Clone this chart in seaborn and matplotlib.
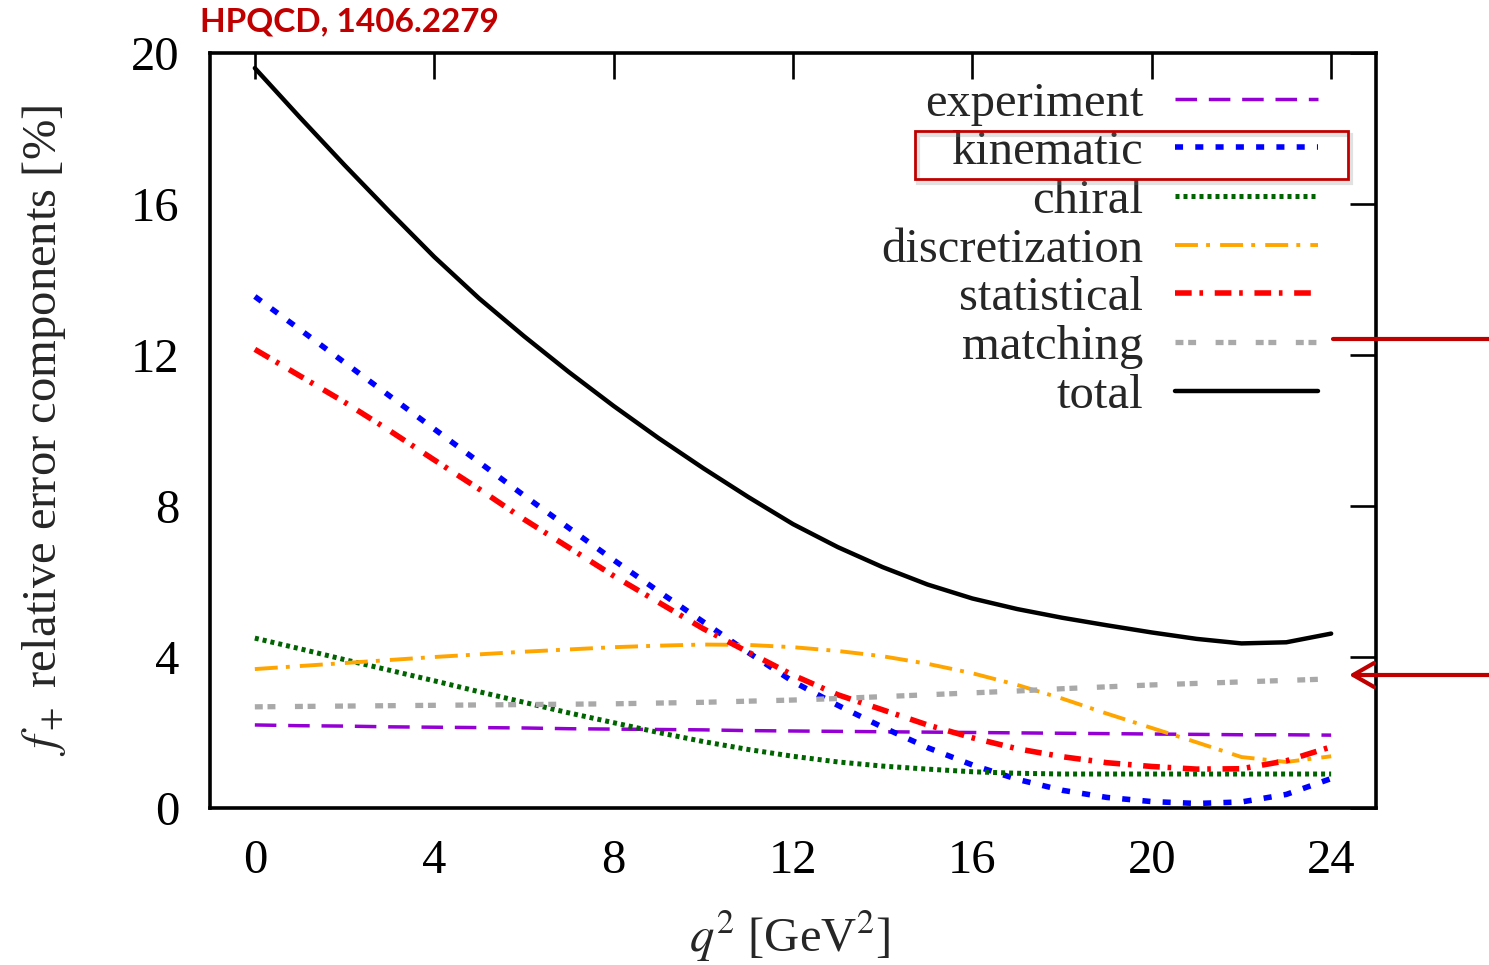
import matplotlib
matplotlib.use("Agg")
import matplotlib.pyplot as plt
import seaborn as sns
from matplotlib.lines import Line2D
from matplotlib.patches import Rectangle, FancyArrowPatch

# q^2 grid [GeV^2] and relative error components of f_+ [%]
q2 = list(range(25))
experiment = [2.20, 2.18, 2.17, 2.15, 2.14, 2.13, 2.12, 2.10, 2.09, 2.08, 2.07, 2.05, 2.04,
              2.03, 2.02, 2.01, 2.00, 1.99, 1.98, 1.97, 1.96, 1.95, 1.94, 1.94, 1.93]
kinematic = [13.55, 12.68, 11.80, 10.92, 10.04, 9.16, 8.28, 7.42, 6.57, 5.74, 4.93, 4.12, 3.35,
             2.72, 2.14, 1.60, 1.14, 0.76, 0.47, 0.28, 0.17, 0.12, 0.16, 0.36, 0.78]
chiral = [4.50, 4.22, 3.93, 3.65, 3.37, 3.08, 2.80, 2.52, 2.26, 2.00, 1.76, 1.55, 1.37,
          1.22, 1.11, 1.03, 0.96, 0.92, 0.90, 0.90, 0.90, 0.90, 0.90, 0.90, 0.90]
discretization = [3.68, 3.76, 3.84, 3.92, 4.00, 4.07, 4.14, 4.20, 4.26, 4.30, 4.33, 4.32, 4.26,
                  4.16, 4.02, 3.82, 3.57, 3.26, 2.90, 2.50, 2.12, 1.74, 1.35, 1.22, 1.37]
statistical = [12.15, 11.45, 10.75, 10.00, 9.22, 8.45, 7.65, 6.90, 6.15, 5.45, 4.75, 4.13, 3.52,
               3.00, 2.60, 2.20, 1.86, 1.57, 1.36, 1.20, 1.10, 1.03, 1.04, 1.25, 1.62]
matching = [2.68, 2.69, 2.70, 2.71, 2.72, 2.73, 2.74, 2.75, 2.76, 2.78, 2.80, 2.83, 2.86,
            2.90, 2.95, 3.00, 3.05, 3.10, 3.16, 3.21, 3.26, 3.30, 3.34, 3.38, 3.42]
total = [19.60, 18.30, 17.03, 15.80, 14.60, 13.50, 12.50, 11.55, 10.65, 9.80, 9.00, 8.24, 7.52,
         6.91, 6.38, 5.92, 5.55, 5.27, 5.04, 4.84, 4.65, 4.48, 4.36, 4.39, 4.62]

labels = ["experiment", "kinematic", "chiral", "discretization", "statistical", "matching", "total"]
series = [experiment, kinematic, chiral, discretization, statistical, matching, total]
x_ticks = [0, 4, 8, 12, 16, 20, 24]
y_ticks = [0, 4, 8, 12, 16, 20]

# gnuplot-like line styles (dash lengths in units of line width)
styles = {
    "experiment": dict(color="#9400D3", lw=2.5, ls=(0, (6.2, 3.4))),
    "kinematic": dict(color="#0000FF", lw=4.0, ls=(0, (1.45, 2.2))),
    "chiral": dict(color="#006400", lw=3.6, ls=(0, (0.8, 0.8))),
    "discretization": dict(color="#FFA500", lw=2.8, ls=(0, (5.9, 2.1, 1.0, 2.6))),
    "statistical": dict(color="#FF0000", lw=4.0, ls=(0, (3.0, 1.4, 0.65, 2.1))),
    "matching": dict(color="#A9A9A9", lw=3.8, ls=(0, (1.5, 0.9, 1.5, 3.7))),
    "total": dict(color="black", lw=3.2, ls="-"),
}

sns.set_theme(style="white")
plt.rcParams["font.family"] = ["Liberation Serif", "DejaVu Serif"]
plt.rcParams["mathtext.fontset"] = "stix"

W, H = 1489, 965
fig = plt.figure(figsize=(W / 100, H / 100), dpi=100)
fig.patch.set_facecolor("white")
ax_l, ax_r, ax_t, ax_b = 210, 1376, 53, 808
ax = fig.add_axes([ax_l / W, 1 - ax_b / H, (ax_r - ax_l) / W, (ax_b - ax_t) / H])
ax.set_facecolor("white")

handles = []
for name, vals in zip(labels, series):
    st = styles[name]
    sns.lineplot(x=q2, y=vals, ax=ax, color=st["color"], linewidth=st["lw"],
                 linestyle=st["ls"], label=name, legend=False)
    handles.append(ax.lines[-1])

ax.set_xlim(-1, 25)
ax.set_ylim(0, 20)
ax.set_xticks(x_ticks)
ax.set_yticks(y_ticks)
ax.tick_params(direction="in", length=19, width=1.9, top=True, right=True,
               labelsize=35, colors="black")
ax.tick_params(axis="x", pad=22)
ax.tick_params(axis="y", pad=22)
for s in ax.spines.values():
    s.set_visible(True)
    s.set_linewidth(2.6)
    s.set_color("black")

ax.set_xlabel(r"$q^2$ [GeV$^2$]", fontsize=35)
ax.set_ylabel(r"$f_+$ relative error components [%]", fontsize=35)
ax.xaxis.set_label_coords(0.497, -0.133)
ax.yaxis.set_label_coords(-0.122, 0.5)

leg = ax.legend(handles, labels, loc="upper right", bbox_to_anchor=(0.9503, 0.962),
                frameon=False, markerfirst=False, fontsize=35, handlelength=2.94,
                handletextpad=0.66, labelspacing=0.095, borderaxespad=0, borderpad=0)

# annotations
fig.text(200 / W, 1 - 22 / H, "HPQCD, 1406.2279", color="#C00000", fontweight="bold",
         family=["Lato", "DejaVu Sans"], fontsize=24, ha="left", va="center")

shadow = Rectangle((918 / W, 1 - 183 / H), (1348 - 915) / W, 48 / H, transform=fig.transFigure,
                   fill=False, ec="#888888", lw=3, alpha=0.25, zorder=9)
box = Rectangle((915 / W, 1 - 179 / H), (1348 - 915) / W, 48 / H, transform=fig.transFigure,
                fill=False, ec="#C00000", lw=2, zorder=10)
fig.add_artist(shadow)
fig.add_artist(box)
fig.add_artist(Line2D([1333 / W, 1.0], [1 - 339 / H] * 2, transform=fig.transFigure,
                      color="#C00000", lw=3))
fig.add_artist(FancyArrowPatch(
    (1.0, 1 - 675 / H), (1349 / W, 1 - 675 / H), transform=fig.transFigure,
    arrowstyle="->,head_length=0.75,head_width=0.43", mutation_scale=20,
    color="#C00000", lw=3, shrinkA=0, shrinkB=0))

fig.savefig("out.png", dpi=100, facecolor="white")
